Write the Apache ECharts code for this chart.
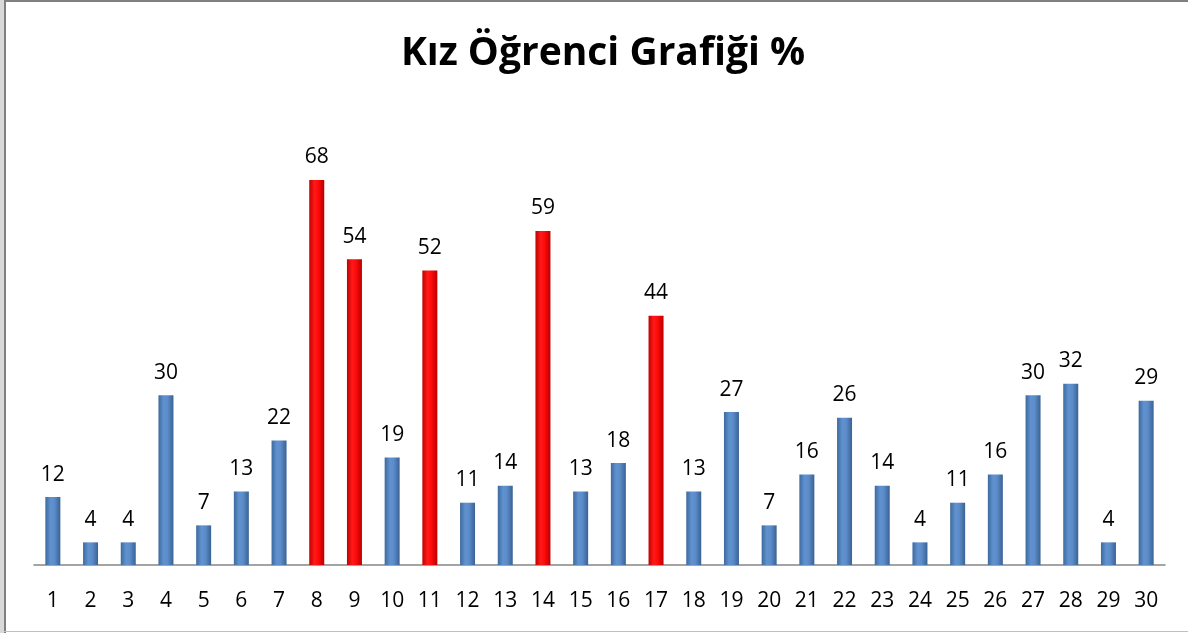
<!DOCTYPE html>
<html><head><meta charset="utf-8">
<script src="https://cdn.jsdelivr.net/npm/echarts@6/dist/echarts.min.js"></script>
<style>
html,body{margin:0;padding:0;background:#fff;}
#c{position:absolute;left:0;top:0;width:1188px;height:633px;}
.b{position:absolute;pointer-events:none;}
</style></head><body>
<div id="c"></div>
<div class="b" style="left:0;top:0;width:4px;height:633px;background:#d9d9d9"></div>
<div class="b" style="left:4px;top:0;width:2px;height:633px;background:#808080"></div>
<div class="b" style="left:4px;top:0;width:1184px;height:2px;background:#808080"></div>
<div class="b" style="left:4px;top:631px;width:1184px;height:1px;background:#bfbfbf"></div>
<script>
const titleText = "Kız Öğrenci Grafiği %";
const categories = ["1","2","3","4","5","6","7","8","9","10","11","12","13","14","15","16","17","18","19","20","21","22","23","24","25","26","27","28","29","30"];
const values = [12,4,4,30,7,13,22,68,54,19,52,11,14,59,13,18,44,13,27,7,16,26,14,4,11,16,30,32,4,29];
const highlighted = ["8","9","11","14","17"];

const blue = {type:'linear',x:0,y:0,x2:1,y2:0,colorStops:[{offset:0,color:'#3d6a9e'},{offset:0.35,color:'#6092cf'},{offset:0.6,color:'#5c8dca'},{offset:1,color:'#3a6294'}]};
const red = {type:'linear',x:0,y:0,x2:1,y2:0,colorStops:[{offset:0,color:'#c00000'},{offset:0.35,color:'#ff1a1a'},{offset:0.6,color:'#ff0a0a'},{offset:1,color:'#b80000'}]};

const chart = echarts.init(document.getElementById('c'));
chart.setOption({
  animation:false,
  backgroundColor:'#fff',
  title:{text:titleText,left:598,textAlign:'center',top:29,textStyle:{fontFamily:'Open Sans',fontWeight:'bold',fontSize:39,color:'#000'}},
  grid:{left:34,right:23,top:112,bottom:68},
  xAxis:{type:'category',data:categories,axisLine:{lineStyle:{color:'#868686',width:1.5}},axisTick:{show:false},
    axisLabel:{interval:0,margin:26,fontFamily:'Open Sans',fontSize:21,color:'#000'}},
  yAxis:{type:'value',min:0,max:80,show:false,splitLine:{show:false}},
  series:[{type:'bar',barWidth:15,
    data:values.map((v,i)=>({value:v,itemStyle:{color:highlighted.includes(categories[i])?red:blue}})),
    label:{show:true,position:'top',distance:12,fontFamily:'Open Sans',fontSize:21,color:'#000'}}]
});
</script></body></html>
